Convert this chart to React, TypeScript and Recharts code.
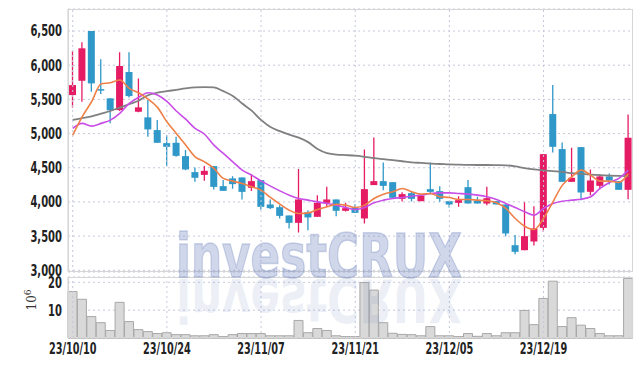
import React from 'react';
import { ComposedChart, Bar, Line, XAxis, YAxis, CartesianGrid, ReferenceLine } from 'recharts';

const dates = ['23/10/10','23/10/11','23/10/12','23/10/13','23/10/16','23/10/17','23/10/18','23/10/19','23/10/20','23/10/23',
'23/10/24','23/10/25','23/10/26','23/10/27','23/10/30','23/10/31','23/11/01','23/11/02','23/11/03','23/11/06',
'23/11/07','23/11/08','23/11/09','23/11/10','23/11/13','23/11/14','23/11/15','23/11/16','23/11/17','23/11/20',
'23/11/21','23/11/22','23/11/23','23/11/24','23/11/27','23/11/28','23/11/29','23/11/30','23/12/01','23/12/04',
'23/12/05','23/12/06','23/12/07','23/12/08','23/12/11','23/12/12','23/12/13','23/12/14','23/12/15','23/12/18',
'23/12/19','23/12/20','23/12/21','23/12/22','23/12/26','23/12/27','23/12/28','24/01/02','24/01/03','24/01/04'];

const opens = [5563,5772,6500,5650,5515,5343,5900,5319,5237,5051,4860,4865,4670,4436,4396,4524,4231,4344,4358,4206,
4319,3963,3923,3802,3694,3850,3782,3987,4036,3870,3919,3758,4246,4304,4289,4045,4128,4011,4187,4158,
4011,3987,4216,4016,3977,4011,3963,3367,3294,3421,3621,5285,4773,4294,4802,4148,4235,4373,4304,4177];
const highs = [6207,6334,6500,6086,5515,6188,6188,5807,5490,5197,4977,4953,4758,4505,4524,4524,4319,4377,4358,4407,
4319,4036,3953,3802,4480,3879,4099,4221,4036,3987,3967,4768,4944,4578,4289,4143,4153,4094,4578,4231,
4011,4084,4319,4075,4221,4011,3963,3518,3997,3938,4699,5710,4871,4792,4802,4475,4402,4417,4304,5280];
const lows = [5383,5465,5611,5578,5149,5330,5529,5310,4953,4865,4524,4660,4465,4294,4308,4183,4162,4191,4036,4158,
3890,3898,3758,3612,3553,3587,3782,3928,3792,3860,3840,3685,4246,4172,4060,4007,4007,4011,4114,4001,
3919,3928,3977,3977,3953,3963,3499,3235,3294,3362,3562,4724,4294,4294,4026,4099,4187,4256,4177,4040];
const closes = [5709,6247,5734,5630,5340,5988,5548,5383,5061,4865,4806,4674,4475,4353,4455,4220,4162,4260,4147,4304,
3928,3909,3796,3694,4036,3773,3987,4036,3870,3909,3840,4187,4304,4235,4060,4114,4045,4094,4147,4045,
3963,4026,3977,3977,4055,3963,3538,3270,3499,3612,4699,4806,4294,4353,4138,4314,4373,4314,4177,4939];

const ma5 = [4977,5245,5465,5724,5743,5783,5661,5597,5504,5383,5172,5002,4831,4660,4586,4490,4344,4304,4270,4221,
4172,4065,3967,3879,3831,3840,3890,3928,3967,3953,3919,3953,4051,4114,4148,4197,4148,4114,4124,4075,
4065,4036,4036,4026,4016,3987,3904,3758,3645,3597,3758,4001,4246,4367,4465,4392,4304,4304,4285,4411];
const ma20 = [5075,5149,5109,5149,5197,5295,5441,5529,5597,5563,5470,5330,5210,5075,4990,4831,4709,4587,4465,4392,
4308,4231,4162,4099,4051,4026,4001,3977,3953,3919,3890,3919,3987,4026,4051,4065,4084,4099,4124,4133,
4133,4124,4114,4099,4075,4036,3977,3919,3855,3806,3904,3977,4011,4026,4040,4075,4197,4285,4344,4465];
const ma60 = [5200,5225,5250,5290,5330,5380,5430,5480,5560,5600,5620,5640,5660,5675,5680,5675,5620,5550,5440,5335,
5200,5095,5035,4985,4940,4875,4775,4715,4692,4685,4677,4660,4640,4625,4610,4595,4580,4570,4560,4555,
4548,4545,4542,4540,4540,4538,4535,4520,4495,4475,4460,4450,4440,4420,4410,4400,4392,4385,4380,4377];

const volumes = [16.7,13.9,7.7,5.5,2.7,12.8,5.9,3.0,2.3,1.6,1.9,1.2,1.2,0.8,0.8,1.2,0.5,1.2,1.6,1.6,
1.6,0.8,0.8,0.8,6.3,1.9,3.4,2.7,0.8,0.5,0.5,19.9,17.2,5.5,1.7,1.3,1.2,0.8,4.1,0.8,
0.8,0.5,1.6,0.6,1.6,0.8,1.9,1.9,9.9,4.8,14.2,20.4,4.1,7.3,4.6,3.4,1.6,0.8,0.8,21.4];

const priceTicks = [3000, 3500, 4000, 4500, 5000, 5500, 6000, 6500];
const volumeTicks = [10, 20];
const dateTicks = [dates[0], dates[10], dates[20], dates[30], dates[40], dates[50]];

const data = dates.map((d, i) => ({
  date: d, open: opens[i], high: highs[i], low: lows[i], close: closes[i],
  range: [lows[i], highs[i]], ma5: ma5[i], ma20: ma20[i], ma60: ma60[i], vol: volumes[i],
}));

const RED = '#e51c64';
const BLUE = '#2f98c8';
const GRID = '#c5c8dc';
const FONT = "'DejaVu Sans Condensed', 'DejaVu Sans', sans-serif";

const YTick = (props: any) => {
  const { x, y, payload, fmt } = props;
  const label = fmt ? fmt(payload.value) : String(payload.value);
  return (
    <g transform={`translate(${x},${y})`}>
      <text transform="scale(0.74,1)" textAnchor="end" dy="0.36em" fontFamily={FONT} fontWeight={700} fontSize={15} fill="#222">
        {label}
      </text>
    </g>
  );
};

const XTick = (props: any) => {
  const { x, y, payload } = props;
  return (
    <g transform={`translate(${x},${y})`}>
      <text transform="scale(0.72,1)" textAnchor="middle" dy="0.72em" fontFamily={FONT} fontWeight={700} fontSize={15} fill="#222">
        {payload.value}
      </text>
    </g>
  );
};

const Candle = (props: any) => {
  const { x, y, width, height, payload } = props;
  if (!payload) return null;
  const { open, close, high, low } = payload;
  const color = close >= open ? RED : BLUE;
  const span = high - low;
  const toY = (v: number) => (span === 0 ? y : y + ((high - v) / span) * height);
  const top = toY(Math.max(open, close));
  const bot = toY(Math.min(open, close));
  const cx = x + width / 2;
  return (
    <g>
      <line x1={cx} x2={cx} y1={y} y2={y + height} stroke={color} strokeWidth={1.3} />
      <rect x={x} y={top} width={width} height={Math.max(1.5, bot - top)} fill={color} />
    </g>
  );
};

const fmtPrice = (v: number) => v.toLocaleString('en-US');

export default function App() {
  return (
    <div style={{ position: 'absolute', left: 0, top: 0, width: 642, height: 366, background: '#fff' }}>
      <div style={{ position: 'absolute', left: 0, top: 0 }}>
        <ComposedChart width={642} height={280} data={data} margin={{ top: 9, right: 9, bottom: 8, left: 8 }} barCategoryGap={0}>
          <CartesianGrid vertical={false} stroke={GRID} strokeDasharray="2 3" />
          <XAxis dataKey="date" hide />
          <YAxis
            domain={[2975, 6822]}
            allowDataOverflow
            ticks={priceTicks}
            width={60}
            tickLine={false}
            tickSize={6}
            tickMargin={0}
            axisLine={{ stroke: '#cfcfcf' }}
            tick={<YTick fmt={fmtPrice} />}
          />
          {dateTicks.map((d) => (
            <ReferenceLine key={d} x={d} stroke={GRID} strokeDasharray="2 3" />
          ))}
          <Line dataKey="ma60" stroke="#808080" strokeWidth={1.8} dot={false} type="monotone" isAnimationActive={false} />
          <Line dataKey="ma20" stroke="#c94ee8" strokeWidth={1.6} dot={false} type="monotone" isAnimationActive={false} />
          <Line dataKey="ma5" stroke="#ee8048" strokeWidth={1.6} dot={false} type="monotone" isAnimationActive={false} />
          <Bar dataKey="range" barSize={7} shape={<Candle />} isAnimationActive={false} />
        </ComposedChart>
      </div>
      <div style={{ position: 'absolute', left: 0, top: 270 }}>
        <ComposedChart width={642} height={96} data={data} margin={{ top: 7, right: 9, bottom: 8, left: 8 }} barCategoryGap={0}>
          <CartesianGrid vertical={false} stroke={GRID} strokeDasharray="2 3" />
          <XAxis
            dataKey="date"
            ticks={dateTicks}
            interval={0}
            height={20}
            tickLine={false}
            tickSize={5}
            tickMargin={0}
            axisLine={{ stroke: '#bbbbbb' }}
            tick={<XTick />}
          />
          <YAxis
            domain={[0, 21.9]}
            ticks={volumeTicks}
            width={60}
            tickLine={false}
            tickSize={6}
            tickMargin={0}
            axisLine={{ stroke: '#cfcfcf' }}
            tick={<YTick />}
          />
          {dateTicks.map((d) => (
            <ReferenceLine key={d} x={d} stroke={GRID} strokeDasharray="2 3" />
          ))}
          <Bar dataKey="vol" fill="#d9d9d9" stroke="#a8a8a8" strokeWidth={1} isAnimationActive={false} />
        </ComposedChart>
      </div>
      <div style={{ position: 'absolute', left: 68, top: 9, width: 565, height: 263, border: '1px solid #d6d6d6', boxSizing: 'border-box', pointerEvents: 'none' }} />
      <div style={{ position: 'absolute', left: 68, top: 277, width: 565, height: 61, border: '1px solid #d6d6d6', boxSizing: 'border-box', pointerEvents: 'none' }} />
      <svg width={642} height={366} style={{ position: 'absolute', left: 0, top: 0, pointerEvents: 'none' }}>
        <text x={176} y={277} textLength={286} lengthAdjust="spacingAndGlyphs" fontFamily="'DejaVu Sans', sans-serif" fontWeight={700} fontSize={60} fill="rgba(110,130,190,0.32)" stroke="rgba(110,130,190,0.32)" strokeWidth={1.5}>investCRUX</text>
        <g transform="translate(0,556) scale(1,-1)">
          <text x={176} y={277} textLength={286} lengthAdjust="spacingAndGlyphs" fontFamily="'DejaVu Sans', sans-serif" fontWeight={700} fontSize={60} fill="rgba(110,130,190,0.14)">investCRUX</text>
        </g>
        <text transform="translate(36,300) rotate(-90)" textAnchor="middle" fontFamily="'DejaVu Serif', serif" fontSize={12} fill="#333">
          10<tspan dy={-5} fontSize={9}>6</tspan>
        </text>
      </svg>
    </div>
  );
}
